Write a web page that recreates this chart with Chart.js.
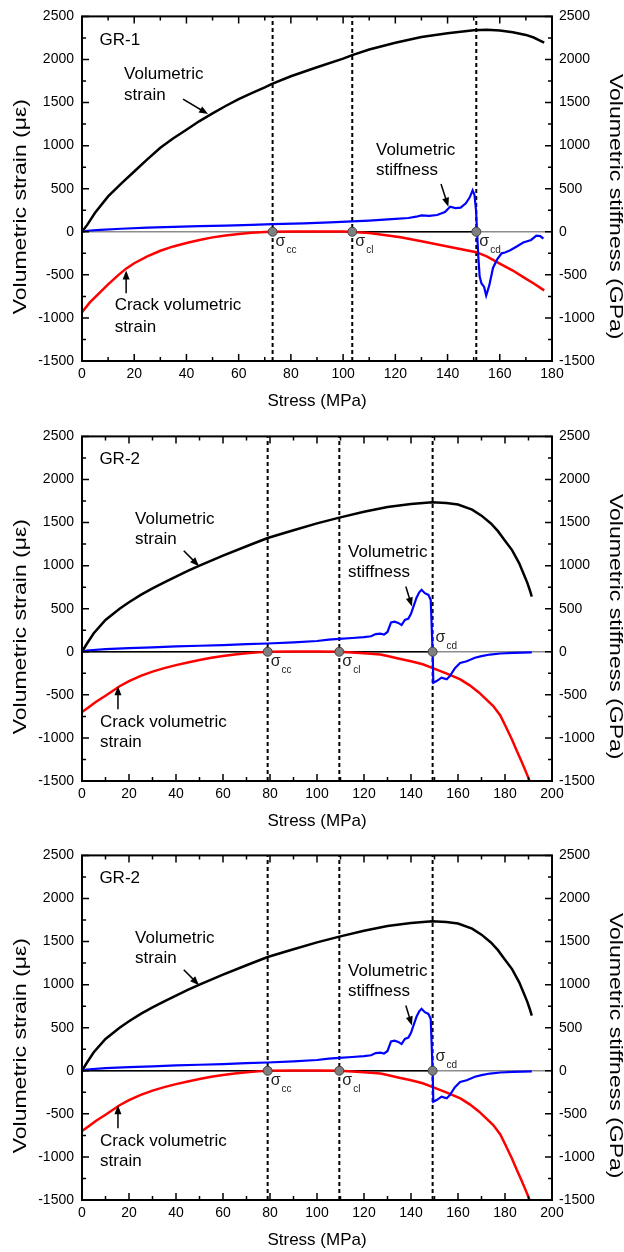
<!DOCTYPE html>
<html>
<head>
<meta charset="utf-8">
<script src="https://cdn.jsdelivr.net/npm/chart.js@4.4.1/dist/chart.umd.min.js"></script>
<style>
html, body { margin: 0; padding: 0; background: #fff; overflow: hidden; }
.panel { position: absolute; left: 0; width: 624px; height: 420px; }
</style>
</head>
<body>
<div class="panel" style="top:0px"><canvas id="gr1" width="624" height="420"></canvas></div>
<div class="panel" style="top:420px"><canvas id="gr2a" width="624" height="420"></canvas></div>
<div class="panel" style="top:839px"><canvas id="gr2b" width="624" height="420"></canvas></div>
<script>
// tick labels
const yTicks = [-1500, -1000, -500, 0, 500, 1000, 1500, 2000, 2500];
const xTicks1 = [0, 20, 40, 60, 80, 100, 120, 140, 160, 180];
const xTicks2 = [0, 20, 40, 60, 80, 100, 120, 140, 160, 180, 200];

// GR-1 : thresholds sigma_cc, sigma_cl, sigma_cd (MPa)
const gr1Sigma = [73, 103.5, 151];
const gr1VolX = [0, 2, 5, 10, 15, 20, 25, 30, 35, 40, 45, 50, 55, 60, 65, 70, 73, 80, 90, 100, 103.5, 110, 120, 130, 140, 150, 155, 160, 165, 170, 173, 175, 177];
const gr1VolY = [0, 80, 220, 410, 560, 700, 840, 975, 1085, 1185, 1285, 1375, 1460, 1540, 1610, 1675, 1720, 1805, 1910, 2010, 2050, 2115, 2195, 2260, 2305, 2340, 2345, 2335, 2315, 2285, 2255, 2225, 2195];
const gr1CrackX = [0, 3, 7, 10, 14, 17, 20, 25, 30, 35, 40, 45, 50, 55, 60, 65, 70, 73, 80, 90, 100, 104, 110, 115, 122, 130, 140, 151, 155, 160, 165, 169, 173, 177];
const gr1CrackY = [-935, -820, -700, -610, -500, -425, -365, -285, -220, -170, -130, -95, -65, -42, -25, -12, -4, 0, 3, 4, 2, -3, -15, -35, -63, -110, -170, -237, -285, -370, -450, -526, -600, -680];
const gr1StiffX = [0, 2, 7, 15, 25, 35, 45, 55, 65, 73, 85, 95, 103.5, 110, 120, 125, 128, 130, 133, 136, 139, 141, 143, 145, 147, 148.5, 149.6, 150.3, 150.9, 151.3, 151.8, 152.3, 153, 154, 154.8, 155.3, 156, 157.4, 159, 160.7, 162, 164, 166, 169, 172, 174, 175.5, 176.7];
const gr1StiffY = [0, 12, 22, 35, 48, 58, 65, 72, 80, 88, 98, 110, 120, 130, 150, 160, 175, 190, 185, 195, 230, 290, 275, 280, 330, 400, 480, 430, 250, 0, -300, -520, -600, -640, -740, -690, -620, -420, -320, -250, -240, -215, -180, -125, -95, -45, -50, -80];

// GR-2
const gr2Sigma = [79, 109.5, 149.2];
const gr2VolX = [0, 2, 5, 10, 16, 20, 25, 30, 35, 40, 45, 50, 60, 70, 79, 90, 100, 109.5, 120, 130, 140, 149, 155, 160, 166, 170, 174, 177, 180, 183, 186, 188, 189.5, 190.5, 191.4];
const gr2VolY = [0, 90, 215, 370, 500, 575, 660, 735, 805, 873, 938, 1000, 1115, 1225, 1320, 1410, 1490, 1557, 1625, 1680, 1715, 1735, 1728, 1710, 1650, 1580, 1490, 1400, 1290, 1180, 1030, 900, 800, 720, 640];
const gr2CrackX = [0, 3, 6, 10, 16, 20, 25, 30, 35, 40, 45, 50, 55, 60, 65, 70, 75, 79, 90, 100, 109.5, 115, 120, 127, 130, 135, 140, 145, 149, 155, 161, 165, 169, 175, 178, 180, 183, 185, 187, 189, 190.5];
const gr2CrackY = [-700, -640, -580, -510, -400, -340, -280, -230, -190, -155, -125, -95, -70, -50, -32, -18, -7, 0, 3, 2, 0, -8, -18, -32, -50, -80, -110, -145, -186, -250, -321, -390, -475, -630, -740, -850, -1020, -1150, -1270, -1400, -1500];
const gr2StiffX = [0, 2, 10, 20, 30, 40, 50, 60, 70, 79, 90, 100, 105, 109.5, 115, 120, 123, 125, 127, 128.5, 130, 131.5, 133, 134.6, 136, 137.4, 138.9, 140, 141, 142.4, 143.5, 144.5, 145.9, 147.4, 148.4, 148.8, 149.2, 149.5, 150.9, 153, 155.2, 156.6, 158.7, 160.9, 163.7, 167.2, 170, 173.6, 178, 183.5, 191.4];
const gr2StiffY = [0, 15, 30, 42, 52, 62, 70, 78, 88, 96, 110, 125, 140, 150, 160, 170, 180, 205, 210, 200, 230, 340, 350, 335, 310, 370, 385, 440, 520, 630, 690, 720, 680, 660, 600, 300, 0, -360, -340, -300, -320, -280, -190, -130, -110, -70, -50, -32, -20, -13, -6];

const FONT = "Arial, 'Liberation Sans', sans-serif";

function pts(xs, ys) {
    return xs.map((x, i) => ({ x: x, y: ys[i] }));
}

// frame with inward major/minor ticks on all four sides
const frameTicks = {
    id: "frameTicks",
    afterDatasetsDraw(chart, args, opts) {
        const { ctx, chartArea: a, scales } = chart;
        const mid = v => v.slice(1).map((t, i) => (t + v[i]) / 2);
        ctx.save();
        ctx.strokeStyle = "#000";
        ctx.lineWidth = 1.5;
        ctx.beginPath();
        const xt = (v, len) => {
            const p = scales.x.getPixelForValue(v);
            ctx.moveTo(p, a.bottom); ctx.lineTo(p, a.bottom - len);
            ctx.moveTo(p, a.top); ctx.lineTo(p, a.top + len);
        };
        const yt = (v, len) => {
            const p = scales.y.getPixelForValue(v);
            ctx.moveTo(a.left, p); ctx.lineTo(a.left + len, p);
            ctx.moveTo(a.right, p); ctx.lineTo(a.right - len, p);
        };
        opts.xTicks.forEach(v => xt(v, 7));
        mid(opts.xTicks).forEach(v => xt(v, 4));
        yTicks.forEach(v => yt(v, 7));
        mid(yTicks).forEach(v => yt(v, 4));
        ctx.stroke();
        ctx.lineWidth = 2;
        ctx.strokeRect(a.left, a.top, a.right - a.left, a.bottom - a.top);
        ctx.restore();
    }
};

// text labels, arrows, sigma labels and the two (narrow, tall) y titles
const notes = {
    id: "notes",
    afterDraw(chart, args, opts) {
        const { ctx, scales, chartArea: a } = chart;
        const px = v => scales.x.getPixelForValue(v);
        const py = v => scales.y.getPixelForValue(v);
        ctx.save();
        ctx.fillStyle = "#000";
        ctx.textBaseline = "middle";
        ctx.textAlign = "left";

        ctx.font = "17px " + FONT;
        opts.texts.forEach(t => ctx.fillText(t.t, px(t.x), py(t.y)));

        ctx.strokeStyle = "#000";
        ctx.lineWidth = 1.5;
        opts.arrows.forEach(ar => {
            const x1 = px(ar[0]), y1 = py(ar[1]), x2 = px(ar[2]), y2 = py(ar[3]);
            const ang = Math.atan2(y2 - y1, x2 - x1);
            ctx.beginPath();
            ctx.moveTo(x1, y1);
            ctx.lineTo(x2 - 6 * Math.cos(ang), y2 - 6 * Math.sin(ang));
            ctx.stroke();
            ctx.beginPath();
            ctx.moveTo(x2, y2);
            ctx.lineTo(x2 - 9 * Math.cos(ang) + 3.5 * Math.sin(ang), y2 - 9 * Math.sin(ang) - 3.5 * Math.cos(ang));
            ctx.lineTo(x2 - 9 * Math.cos(ang) - 3.5 * Math.sin(ang), y2 - 9 * Math.sin(ang) + 3.5 * Math.cos(ang));
            ctx.closePath();
            ctx.fill();
        });

        // sigma labels next to the threshold markers
        const y0 = py(0);
        ctx.fillStyle = "#222";
        opts.sigma.forEach((s, i) => {
            const x = px(s) + 3;
            const ys = opts.sigmaUp[i] ? y0 - 14 : y0 + 10;
            ctx.font = "16px " + FONT;
            ctx.fillText("σ", x, ys);
            const w = ctx.measureText("σ").width;
            ctx.font = "10px " + FONT;
            ctx.fillText(opts.subs[i], x + w + 1, ys + 8);
        });

        // y titles
        ctx.fillStyle = "#000";
        ctx.textAlign = "center";
        ctx.font = "23px " + FONT;
        const cy = (a.top + a.bottom) / 2 + 18;
        [[21, -Math.PI / 2, opts.yTitle], [615, Math.PI / 2, opts.y2Title]].forEach(tt => {
            ctx.save();
            ctx.translate(tt[0], cy);
            ctx.rotate(tt[1]);
            ctx.scale(1, 0.82);
            ctx.fillText(tt[2], 0, 0);
            ctx.restore();
        });
        ctx.restore();
    }
};

function makePanel(id, p) {
    const xMin = p.xTicks[0], xMax = p.xTicks[p.xTicks.length - 1];
    const yMin = yTicks[0], yMax = yTicks[yTicks.length - 1];
    const datasets = [
        {
            data: p.sigma.map(s => ({ x: s, y: 0 })), showLine: false,
            pointRadius: 4.5, pointBackgroundColor: "#7f7f7f", pointBorderColor: "#444", pointBorderWidth: 1
        },
        { data: pts(p.stiffX, p.stiffY), yAxisID: "y2", borderColor: "#0000ff", borderWidth: 2.2 },
        { data: pts(p.volX, p.volY), borderColor: "#000", borderWidth: 2.5 },
        { data: pts(p.crackX, p.crackY), borderColor: "#ff0000", borderWidth: 2.5 }
    ];
    p.sigma.forEach(s => datasets.push({
        data: [{ x: s, y: yMin }, { x: s, y: yMax }], borderColor: "#000", borderWidth: 2, borderDash: [4, 3]
    }));
    datasets.push({ data: [{ x: p.blackFrom, y: 0 }, { x: p.sigma[2], y: 0 }], borderColor: "#000", borderWidth: 1.5 });
    datasets.push({ data: [{ x: xMin, y: 0 }, { x: xMax, y: 0 }], borderColor: "#8c8c8c", borderWidth: 1.5 });

    const tickFont = { family: FONT, size: 14 };
    const yScale = (pos, width, pad) => ({
        type: "linear", position: pos, min: yMin, max: yMax,
        afterBuildTicks: s => { s.ticks = yTicks.map(v => ({ value: v })); },
        afterFit: s => { s.width = width; },
        grid: { display: false, drawTicks: false },
        border: { display: false },
        ticks: { font: tickFont, color: "#000", padding: pad, callback: v => String(v) }
    });

    new Chart(document.getElementById(id), {
        type: "line",
        data: { datasets: datasets },
        options: {
            responsive: false,
            animation: false,
            events: [],
            layout: { padding: { top: 15, left: 0, right: 0, bottom: 0 } },
            elements: { point: { radius: 0 }, line: { tension: 0, fill: false } },
            plugins: {
                legend: { display: false },
                tooltip: { enabled: false },
                frameTicks: { xTicks: p.xTicks },
                notes: {
                    texts: p.texts, arrows: p.arrows, sigma: p.sigma, subs: ["cc", "cl", "cd"], sigmaUp: p.sigmaUp,
                    yTitle: "Volumetric strain (με)", y2Title: "Volumetric stiffness (GPa)"
                }
            },
            scales: {
                x: {
                    type: "linear", min: xMin, max: xMax,
                    afterBuildTicks: s => { s.ticks = p.xTicks.map(v => ({ value: v })); },
                    afterFit: s => { s.height = 59; },
                    grid: { display: false, drawTicks: false },
                    border: { display: false },
                    ticks: { font: tickFont, color: "#000", padding: 5, maxRotation: 0, callback: v => String(v) },
                    title: { display: true, text: "Stress (MPa)", font: { family: FONT, size: 17 }, color: "#000", padding: { top: 0, bottom: 8 } }
                },
                y: yScale("left", 82, 8),
                y2: yScale("right", 72, 7)
            }
        },
        plugins: [frameTicks, notes]
    });
}

makePanel("gr1", {
    xTicks: xTicks1, sigma: gr1Sigma, blackFrom: gr1Sigma[0], sigmaUp: [false, false, false],
    volX: gr1VolX, volY: gr1VolY, crackX: gr1CrackX, crackY: gr1CrackY, stiffX: gr1StiffX, stiffY: gr1StiffY,
    texts: [
        { t: "GR-1", x: 6.7, y: 2226 },
        { t: "Volumetric", x: 16.1, y: 1832 }, { t: "strain", x: 16.1, y: 1583 },
        { t: "Volumetric", x: 112.6, y: 947 }, { t: "stiffness", x: 112.6, y: 708 },
        { t: "Crack volumetric", x: 12.5, y: -853 }, { t: "strain", x: 12.5, y: -1104 }
    ],
    arrows: [[38.7, 1540, 48.3, 1366], [137.5, 554, 140.3, 291], [16.9, -714, 16.9, -449]]
});

const gr2Panel = {
    xTicks: xTicks2, sigma: gr2Sigma, blackFrom: 0, sigmaUp: [false, false, true],
    volX: gr2VolX, volY: gr2VolY, crackX: gr2CrackX, crackY: gr2CrackY, stiffX: gr2StiffX, stiffY: gr2StiffY,
    texts: [
        { t: "GR-2", x: 7.4, y: 2234 },
        { t: "Volumetric", x: 22.6, y: 1540 }, { t: "strain", x: 22.6, y: 1309 },
        { t: "Volumetric", x: 113.2, y: 1150 }, { t: "stiffness", x: 113.2, y: 919 },
        { t: "Crack volumetric", x: 7.7, y: -815 }, { t: "strain", x: 7.7, y: -1050 }
    ],
    arrows: [[43.3, 1173, 49.8, 994], [137.8, 757, 140.4, 526], [15.3, -668, 15.3, -399]]
};
makePanel("gr2a", gr2Panel);
makePanel("gr2b", gr2Panel);
</script>
</body>
</html>
